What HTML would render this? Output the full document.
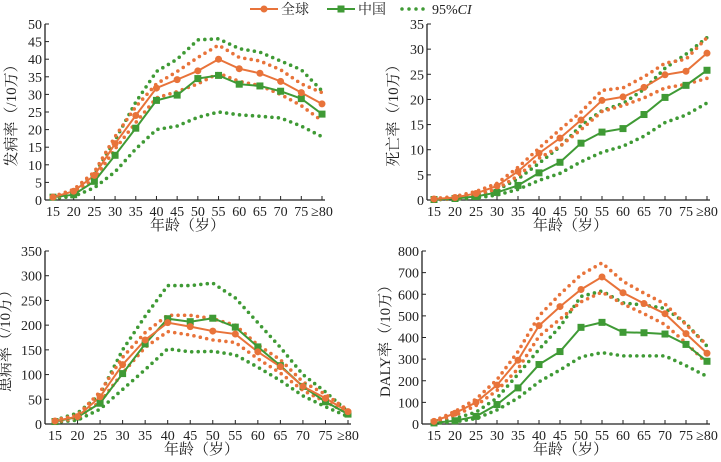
<!DOCTYPE html>
<html><head><meta charset="utf-8"><style>
body{margin:0;background:#fff;width:721px;height:457px;overflow:hidden}
svg text{font-family:"Liberation Serif","Noto Serif CJK SC",serif;fill:#222}
</style></head><body>
<svg id="c" width="721" height="457">
<g>
<line x1="250" y1="9" x2="278" y2="9" stroke="#e8733a" stroke-width="2"/><circle cx="264" cy="9" r="3.5" fill="#e8733a"/>
<text x="281" y="14" font-size="14">全球</text>
<line x1="327" y1="9" x2="355" y2="9" stroke="#3f9a35" stroke-width="2"/><rect x="337.5" y="5.5" width="7" height="7" fill="#3f9a35"/>
<text x="358" y="14" font-size="14">中国</text>
<line x1="402" y1="9" x2="428" y2="9" stroke="#3f9a35" stroke-width="3.5" stroke-linecap="round" stroke-dasharray="0 7"/>
<text x="432" y="14" font-size="14">95%<tspan font-style="italic">CI</tspan></text>
</g>
</svg>
<script>
const categories=["15","20","25","30","35","40","45","50","55","60","65","70","75","≥80"];
const incGlobal=[0.8,2.5,7,16,24,31.8,34.2,36.7,40,37.3,36,33.7,30.5,27.3];
const incGlobalUp=[1,3,8,18,26.5,33,36.5,40.5,44,40.5,39.5,37,33,30.5];
const incGlobalLo=[0.6,2,6,14.5,22,29,30.8,33,36,33.7,32.5,30,26.8,22.5];
const incChina=[0.8,1.5,5.3,12.7,20.4,28.3,29.8,34.5,35.4,32.9,32.4,30.9,28.8,24.4];
const incChinaUp=[1,2.5,7.5,17,27.8,36.5,40,45.5,45.8,43,42,39.5,37,31];
const incChinaLo=[0.5,1,3.5,8,14.5,20,21,23.5,25,24.2,23.8,23.3,21,18];
const morGlobal=[0.2,0.5,1.3,2.8,5.7,9.3,12.3,15.9,19.8,20.5,22.4,24.9,25.6,29.2];
const morGlobalUp=[0.3,0.7,1.7,3.3,6.5,10.3,14,17.5,21.8,22.3,24.5,27.2,28,32.3];
const morGlobalLo=[0.1,0.3,1,2.2,4.8,8.3,10.7,14,17.6,18.8,20.3,22.3,23,24.2];
const morChina=[0.1,0.3,0.7,1.5,2.9,5.4,7.5,11.3,13.5,14.2,17,20.4,22.8,25.8];
const morChinaUp=[0.2,0.5,1,2,4.2,7.3,10.6,14.8,17.8,19.2,22,26.2,29,32.3];
const morChinaLo=[0.05,0.2,0.4,1,2.1,3.9,5.3,7.6,9.5,10.7,12.7,15.4,16.9,19.3];
const preGlobal=[6,15,55,120,170,205,197,188,182,146,116,76,52,25];
const preGlobalUp=[8,18,65,135,185,220,220,213,200,160,130,85,60,28];
const preGlobalLo=[4,12,45,103,155,187,180,170,165,132,103,68,45,22];
const preChina=[5,14,42,102,162,213,207,214,196,156,118,76,45,20];
const preChinaUp=[8,22,60,150,218,280,280,285,255,205,155,100,65,25];
const preChinaLo=[3,8,30,70,110,152,146,147,140,115,88,57,35,15];
const dalyGlobal=[12,50,100,180,295,455,543,622,680,607,557,510,418,327];
const dalyGlobalUp=[15,58,115,205,335,500,600,690,745,660,605,555,460,365];
const dalyGlobalLo=[10,40,85,155,255,405,485,565,610,555,510,460,375,280];
const dalyChina=[5,15,35,90,167,275,335,447,470,424,422,416,368,290];
const dalyChinaUp=[8,25,55,120,230,345,450,590,615,560,550,535,465,360];
const dalyChinaLo=[3,10,25,65,120,195,250,310,330,315,315,315,270,220];
const ticksInc=[0,5,10,15,20,25,30,35,40,45,50];
const ticksMor=[0,5,10,15,20,25,30,35];
const ticksPre=[0,50,100,150,200,250,300,350];
const ticksDaly=[0,100,200,300,400,500,600,700,800];

const NS="http://www.w3.org/2000/svg",svg=document.getElementById('c');
const OR="#e8733a",GR="#3f9a35";
function mk(t,a,p){const e=document.createElementNS(NS,t);for(const k in a)e.setAttribute(k,a[k]);p.appendChild(e);return e;}
function panel(name,cfg,title,ticks,gU,gL,g,cU,cL,c){
 const G=mk('g',{},svg);
 
 
 const max=ticks[ticks.length-1];
 const X=i=>cfg.x0+(cfg.x1-cfg.x0)*i/(categories.length-1);
 const Y=v=>cfg.y0-(cfg.y0-cfg.yt)*v/max;
 mk('line',{x1:cfg.ax,y1:cfg.yt,x2:cfg.ax,y2:cfg.y0,stroke:'#222','stroke-width':1.3},G);
 mk('line',{x1:cfg.ax,y1:cfg.y0,x2:cfg.x1+3,y2:cfg.y0,stroke:'#222','stroke-width':1.3},G);
 ticks.forEach(t=>{mk('line',{x1:cfg.ax,y1:Y(t),x2:cfg.ax+4,y2:Y(t),stroke:'#222'},G);
  const tx=mk('text',{x:cfg.ax-3,y:Y(t)+5,'font-size':14,'text-anchor':'end'},G);tx.textContent=t;
  
  });
 categories.forEach((cat,i)=>{mk('line',{x1:X(i),y1:cfg.y0,x2:X(i),y2:cfg.y0-4,stroke:'#222'},G);
  const tx=mk('text',{x:X(i),y:cfg.y0+16,'font-size':14,'text-anchor':'middle'},G);tx.textContent=cat;
  
  });
 const xt=mk('text',{x:(cfg.x0+cfg.x1)/2,y:cfg.y0+30,'font-size':15,'text-anchor':'middle'},G);xt.textContent='年龄（岁）';
 
 
 const yc=(cfg.y0+cfg.yt)/2;
 const yt=mk('text',{x:cfg.tx,y:yc,'font-size':15,'text-anchor':'middle',transform:`rotate(-90 ${cfg.tx} ${yc})`},G);yt.textContent=title;
 
 
 const pts=a=>a.map((v,i)=>X(i)+','+Y(v)).join(' ');
 [[cU,GR,'china-ci-upper'],[cL,GR,'china-ci-lower'],[gU,OR,'global-ci-upper'],[gL,OR,'global-ci-lower']].forEach(([a,col,n])=>{
  const p=mk('polyline',{points:pts(a),fill:'none',stroke:col,'stroke-width':3.6,'stroke-linecap':'round','stroke-dasharray':'0 6.5'},G);
  
  });
 const l1=mk('polyline',{points:pts(c),fill:'none',stroke:GR,'stroke-width':2},G);
 
 
 const l2=mk('polyline',{points:pts(g),fill:'none',stroke:OR,'stroke-width':2},G);
 
 
 c.forEach((v,i)=>{const r=mk('rect',{x:X(i)-3.5,y:Y(v)-3.5,width:7,height:7,fill:GR},G);
  
  });
 g.forEach((v,i)=>{const r=mk('circle',{cx:X(i),cy:Y(v),r:3.5,fill:OR},G);
  
  });
}
panel('incidence-panel',{ax:45,x0:53,x1:322,y0:200,yt:24,tx:16},'发病率（/10万）',ticksInc,incGlobalUp,incGlobalLo,incGlobal,incChinaUp,incChinaLo,incChina);
panel('mortality-panel',{ax:427,x0:434,x1:707,y0:200,yt:24,tx:398},'死亡率（/10万）',ticksMor,morGlobalUp,morGlobalLo,morGlobal,morChinaUp,morChinaLo,morChina);
panel('prevalence-panel',{ax:45,x0:55,x1:348,y0:424,yt:251,tx:10},'患病率（/10万）',ticksPre,preGlobalUp,preGlobalLo,preGlobal,preChinaUp,preChinaLo,preChina);
panel('daly-panel',{ax:422,x0:434,x1:707,y0:424,yt:251,tx:390},'DALY率（/10万）',ticksDaly,dalyGlobalUp,dalyGlobalLo,dalyGlobal,dalyChinaUp,dalyChinaLo,dalyChina);
</script>
</body></html>
